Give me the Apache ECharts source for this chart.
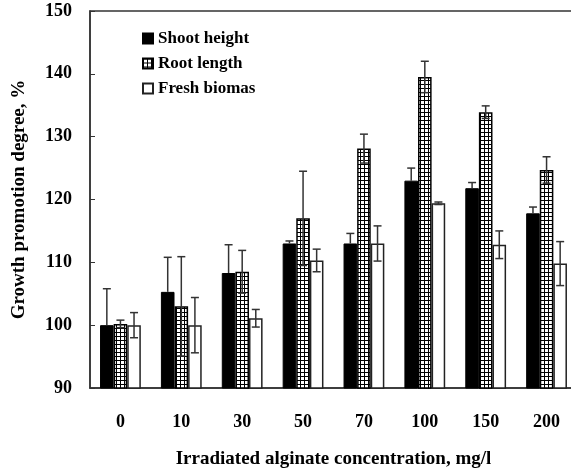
<!DOCTYPE html>
<html>
<head>
<meta charset="utf-8">
<script src="https://cdn.jsdelivr.net/npm/echarts@6/dist/echarts.min.js"></script>
<style>
  html, body { margin: 0; padding: 0; background: #fff; }
  #chart { width: 571px; height: 475px; }
</style>
</head>
<body>
<div id="chart"></div>
<script>
// data
const categories = ['0', '10', '30', '50', '70', '100', '150', '200']
const shoot = [100, 105.3, 108.3, 113, 113, 123, 121.8, 117.8]
const shootErr = [5.8, 5.5, 4.5, 0.4, 1.6, 2.0, 0.9, 1.0]
const root = [100.2, 103, 108.5, 117, 128.1, 139.5, 133.9, 124.7]
const rootErr = [0.6, 7.9, 3.4, 7.5, 2.3, 2.5, 1.0, 2.1]
const fresh = [100, 100, 101.1, 110.3, 113, 119.4, 112.8, 109.8]
const freshErr = [2.0, 4.4, 1.4, 1.8, 2.8, 0.2, 2.2, 3.5]
const yTicks = [90, 100, 110, 120, 130, 140, 150]

const font = "'Liberation Serif', 'Times New Roman', serif"
const gapRatio = 0.33

// grid pattern for root length bars
function gridPattern() {
    const c = document.createElement('canvas')
    c.width = 4
    c.height = 4
    const ctx = c.getContext('2d')
    ctx.fillStyle = '#fff'
    ctx.fillRect(0, 0, 4, 4)
    ctx.fillStyle = '#000'
    ctx.fillRect(0, 0, 4, 1)
    ctx.fillRect(0, 0, 1, 4)
    return c
}
const pattern = { image: gridPattern(), repeat: 'repeat' }

// upOnly: lower half is hidden inside the black bar anyway
function errSeries(name, vals, errs, offset, upOnly) {
    return {
        type: 'custom',
        name: name + ' err',
        z: 10,
        silent: true,
        data: vals.map((v, i) => [i, v, errs[i]]),
        encode: { x: 0, y: 1 },
        renderItem: (params, api) => {
            const i = api.value(0)
            const v = api.value(1)
            const e = api.value(2)
            const top = api.coord([i, v + e])
            const bot = api.coord([i, upOnly ? v : v - e])
            const band = api.size([1, 0])[0]
            const barW = band * (1 - gapRatio) / 3
            const x = top[0] + offset * barW
            const cap = 4
            const style = { stroke: '#333', lineWidth: 1.5 }
            const children = [
                { type: 'line', shape: { x1: x, y1: top[1], x2: x, y2: bot[1] }, style },
                { type: 'line', shape: { x1: x - cap, y1: top[1], x2: x + cap, y2: top[1] }, style }
            ]
            if (!upOnly) {
                children.push({ type: 'line', shape: { x1: x - cap, y1: bot[1], x2: x + cap, y2: bot[1] }, style })
            }
            return { type: 'group', children }
        }
    }
}

const myChart = echarts.init(document.getElementById('chart'))
myChart.setOption({
    animation: false,
    textStyle: { fontFamily: font, fontWeight: 'bold', color: '#000' },
    grid: {
        left: 90, top: 11, bottom: 87, right: -6,
        show: true, borderColor: '#333', borderWidth: 1.5,
        outerBoundsMode: 'none'
    },
    legend: {
        orient: 'vertical',
        left: 137, top: 25,
        itemWidth: 10, itemHeight: 10, itemGap: 8,
        textStyle: { fontFamily: font, fontWeight: 'bold', fontSize: 17, color: '#000' },
        data: [
            { name: 'Shoot height', icon: 'rect' },
            { name: 'Root length', icon: 'rect' },
            { name: 'Fresh biomas', icon: 'rect' }
        ]
    },
    xAxis: {
        type: 'category',
        data: categories,
        name: 'Irradiated alginate concentration, mg/l',
        nameLocation: 'middle',
        nameGap: 62,
        nameTextStyle: { fontFamily: font, fontWeight: 'bold', fontSize: 19 },
        axisLine: { lineStyle: { color: '#333', width: 1.5 } },
        axisTick: { inside: true, length: 4, lineStyle: { color: '#333' } },
        axisLabel: { fontFamily: font, fontWeight: 'bold', fontSize: 18, color: '#000', margin: 25 }
    },
    yAxis: {
        type: 'value',
        min: yTicks[0],
        max: yTicks[yTicks.length - 1],
        interval: 10,
        name: 'Growth promotion degree, %',
        nameLocation: 'middle',
        nameGap: 61,
        nameTextStyle: { fontFamily: font, fontWeight: 'bold', fontSize: 19 },
        splitLine: { show: false },
        axisLine: { show: true, lineStyle: { color: '#333', width: 1.5 } },
        axisTick: { show: true, inside: true, length: 5, lineStyle: { color: '#333' } },
        axisLabel: { fontFamily: font, fontWeight: 'bold', fontSize: 18, color: '#000', margin: 18 }
    },
    series: [
        {
            name: 'Shoot height', type: 'bar', data: shoot,
            barGap: '0%', barCategoryGap: (gapRatio * 100) + '%',
            itemStyle: { color: '#000', borderColor: '#000', borderWidth: 1 }
        },
        {
            name: 'Root length', type: 'bar', data: root,
            itemStyle: { color: pattern, borderColor: '#000', borderWidth: 1.5 }
        },
        {
            name: 'Fresh biomas', type: 'bar', data: fresh,
            itemStyle: { color: '#fff', borderColor: '#222', borderWidth: 1.5 }
        },
        errSeries('Shoot height', shoot, shootErr, -1, true),
        errSeries('Root length', root, rootErr, 0, false),
        errSeries('Fresh biomas', fresh, freshErr, 1, false)
    ]
})
</script>
</body>
</html>
